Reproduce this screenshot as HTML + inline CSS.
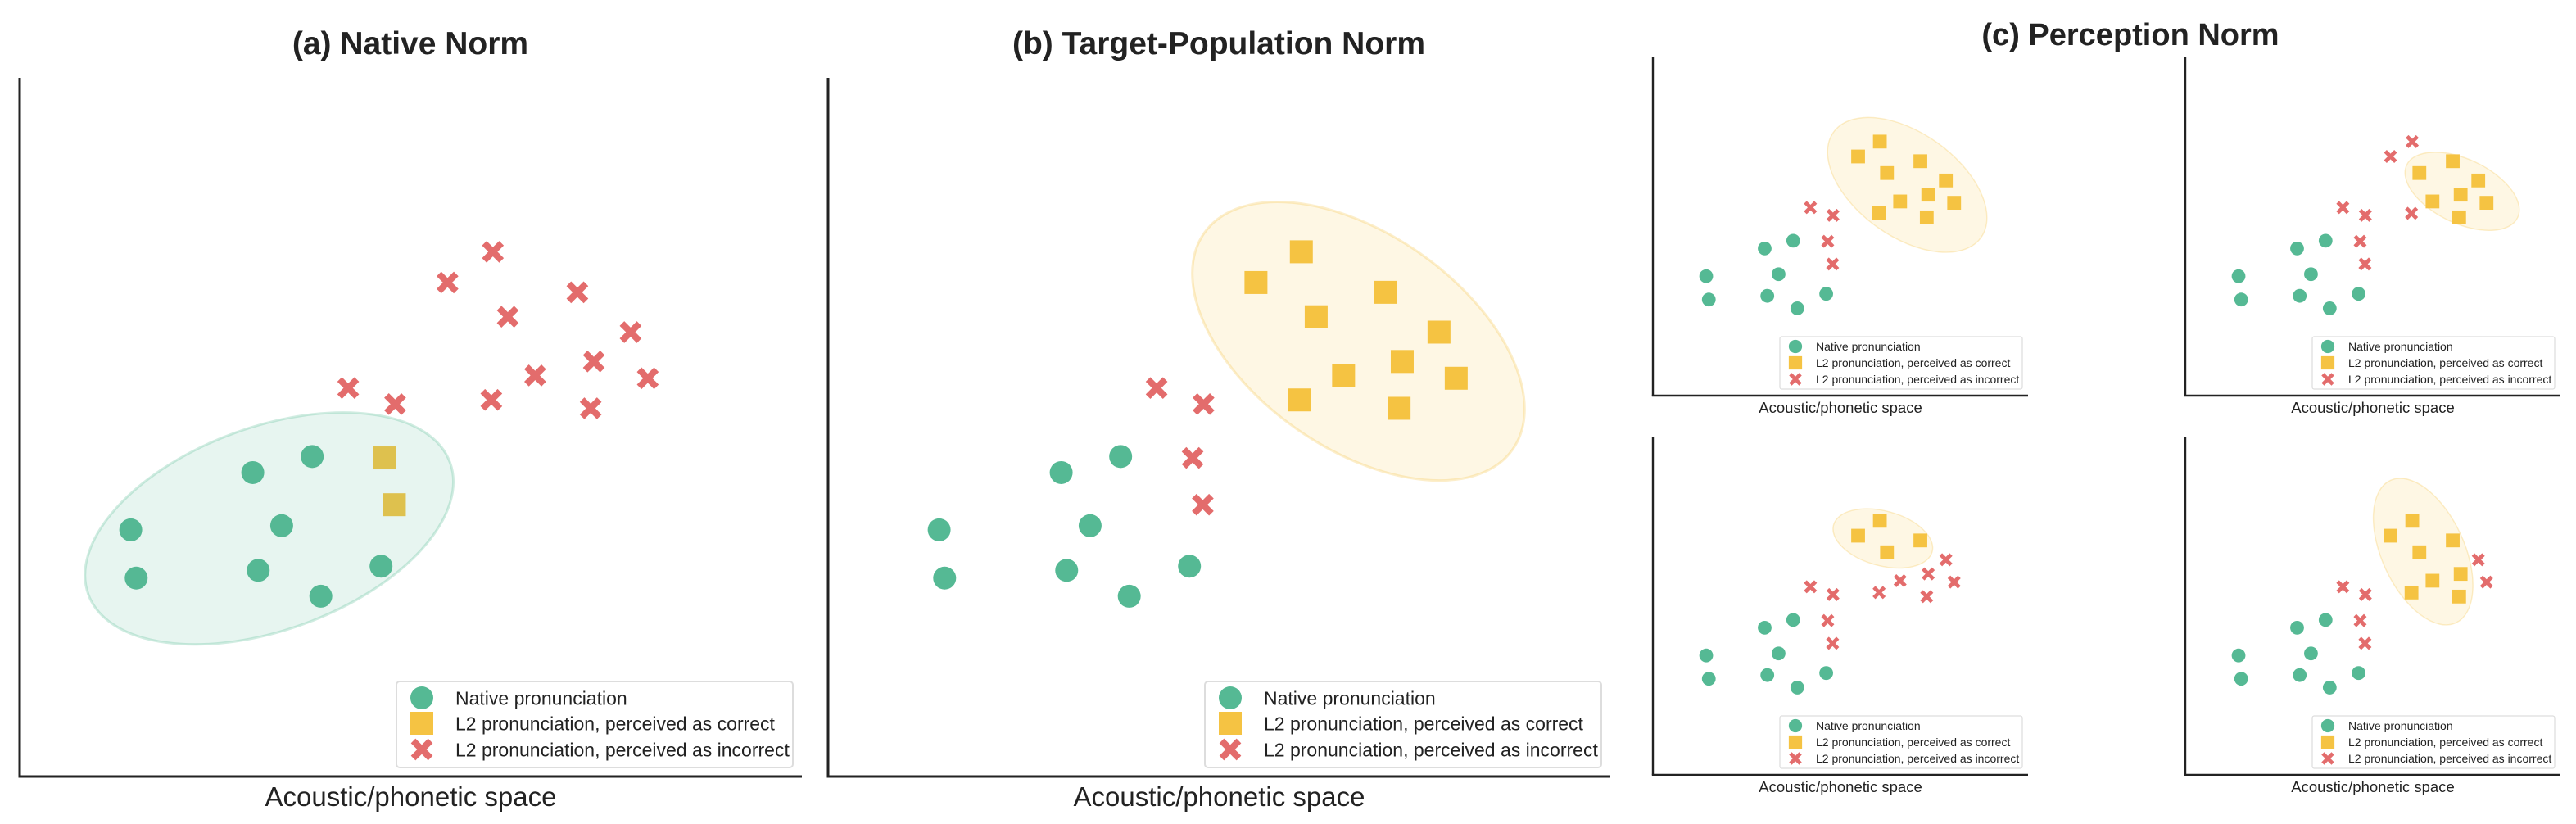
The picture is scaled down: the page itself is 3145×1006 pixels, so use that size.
<!DOCTYPE html>
<html><head><meta charset="utf-8"><style>
html,body{margin:0;padding:0;background:#fff;}
svg{display:block;font-family:"Liberation Sans",Arial,sans-serif;}
</style></head><body>
<svg id="fig" width="3145" height="1006" viewBox="0 0 3145 1006" xmlns="http://www.w3.org/2000/svg"></svg>
<script>
// shared point data (axis units 0..10)
const nativeX = [1.42, 1.49, 2.98, 3.74, 3.35, 3.05, 3.85, 4.62];
const nativeY = [3.53, 2.84, 4.35, 4.58, 3.59, 2.95, 2.58, 3.01];
const nearX = [4.20, 4.80, 4.66, 4.79];
const nearY = [5.56, 5.33, 4.56, 3.89];
const farX = [6.05, 5.47, 7.13, 6.24, 7.81, 7.34, 6.59, 8.03, 6.03, 7.30];
const farY = [7.51, 7.07, 6.93, 6.58, 6.36, 5.94, 5.74, 5.70, 5.39, 5.27];
// category per panel: 's' = perceived correct, 'x' = perceived incorrect
const aNear = ['x','x','s','s'];
const aFar  = ['x','x','x','x','x','x','x','x','x','x'];
const bNear = ['x','x','x','x'];
const bFar  = ['s','s','s','s','s','s','s','s','s','s'];
const c1Far = ['s','s','s','s','s','s','s','s','s','s'];
const c2Far = ['x','x','s','s','s','s','s','s','x','s'];
const c3Far = ['s','s','s','s','x','x','x','x','x','x'];
const c4Far = ['s','s','s','s','x','s','s','x','s','s'];
// ellipse centres (axis units)
const ellCenterX = [3.19, 6.78, 6.78, 7.38, 6.13, 6.34];
const ellCenterY = [3.55, 6.23, 6.23, 6.04, 6.99, 6.60];
const legendLabels = ['Native pronunciation','L2 pronunciation, perceived as correct','L2 pronunciation, perceived as incorrect'];

const NS='http://www.w3.org/2000/svg';
const svg=document.getElementById('fig');
const GREEN='#55b994', YEL='#f5c343', RED='#e36c6c';
function mk(tag,attrs,parent){const e=document.createElementNS(NS,tag);for(const k in attrs)e.setAttribute(k,attrs[k]);(parent||svg).appendChild(e);return e;}

function marker(g,kind,cx,cy,m){
  let e;
  if(kind==='c'){e=mk('circle',{cx:cx,cy:cy,r:14*m,fill:GREEN},g);
    }
  else if(kind==='s'){e=mk('rect',{x:cx-14*m,y:cy-14*m,width:28*m,height:28*m,fill:YEL},g);
    }
  else{const d=10.5*m;e=mk('path',{d:`M${cx-d},${cy-d}L${cx+d},${cy+d}M${cx-d},${cy+d}L${cx+d},${cy-d}`,stroke:RED,'stroke-width':8*m,fill:'none'},g);
    }
  
}

function panel(p){
  const g=mk('g',{});
  
  
  const sx=v=>p.x0+v/10*p.w, sy=v=>p.y0+p.h-v/10*p.h;
  const m=p.m;
  nativeX.forEach((v,i)=>marker(g,'c',sx(v),sy(nativeY[i]),m));
  nearX.forEach((v,i)=>marker(g,p.near[i],sx(v),sy(nearY[i]),m));
  farX.forEach((v,i)=>marker(g,p.far[i],sx(v),sy(farY[i]),m));
  const e=p.ell, ex=sx(ellCenterX[e.i]), ey=sy(ellCenterY[e.i]);
  const eg=mk('g',{transform:`translate(${ex},${ey}) scale(${p.w/955},${p.h/853}) rotate(${e.rot})`},g);
  const el=mk('ellipse',{cx:0,cy:0,rx:e.a,ry:e.b,fill:e.fill,'fill-opacity':e.fo,stroke:e.fill,'stroke-opacity':0.28,'stroke-width':3},eg);
  
  
  const sw=m>0.8?3:2.4;
  const ys=mk('line',{x1:p.x0,y1:p.y0,x2:p.x0,y2:p.y0+p.h,stroke:'#222','stroke-width':sw},g);
  
  
  const xs=mk('line',{x1:p.x0-sw/2,y1:p.y0+p.h,x2:p.x0+p.w,y2:p.y0+p.h,stroke:'#222','stroke-width':sw},g);
  
  
  const xl=mk('text',{x:p.x0+p.w/2,y:p.y0+p.h+p.lblOff,'font-size':p.lblFs,'text-anchor':'middle',fill:'#222'},g);
  xl.textContent='Acoustic/phonetic space';
  
  
  const L=p.leg;
  const lg=mk('g',{},g);
  
  
  const bx=p.x0+p.w-L.gr-L.w, by=p.y0+p.h-L.gb-L.h;
  mk('rect',{x:bx,y:by,width:L.w,height:L.h,rx:4*L.s,fill:'#fff','fill-opacity':0.85,stroke:'#ddd','stroke-width':2*L.s},lg);
  ['c','s','x'].forEach((k,i)=>{
    const ry=by+L.rows[i];
    const eg2=mk('g',{},lg);
    
    
    marker(eg2,k,bx+L.mx,ry,L.ms);
    const t=mk('text',{x:bx+L.tx,y:ry+L.fs*0.36,'font-size':L.fs,fill:'#222'},eg2);
    t.textContent=legendLabels[i];
  });
}

function title(x,y,fs,txt,name){
  const t=mk('text',{x:x,y:y,'font-size':fs,'font-weight':'bold','text-anchor':'middle',fill:'#222'});
  t.textContent=txt;
  
  
}

const bigLeg={w:484,h:105,gr:11,gb:11,rows:[20,51,83],mx:31,tx:72,fs:23,ms:1,s:1};
const smLeg={w:296,h:64,gr:7,gb:8,rows:[12,32,52],mx:19,tx:44,fs:14,ms:0.58,s:0.6};
const yEll={fill:YEL,fo:0.14};

title(501,66,39,'(a) Native Norm','panel-a-title');
title(1488,66,39,'(b) Target-Population Norm','panel-b-title');
title(2601,55,38,'(c) Perception Norm','panel-c-title');

panel({name:'panel-a-native-norm',x0:24,y0:95,w:955,h:853,m:1,near:aNear,far:aFar,
  ell:{i:0,a:235,b:124,rot:-20,fill:GREEN,fo:0.14},lblOff:36,lblFs:33,leg:bigLeg});
panel({name:'panel-b-target-population-norm',x0:1011,y0:95,w:955,h:853,m:1,near:bNear,far:bFar,
  ell:Object.assign({i:1,a:230,b:131,rot:35},yEll),lblOff:36,lblFs:33,leg:bigLeg});
panel({name:'panel-c1',x0:2018,y0:70,w:458,h:413,m:0.6,near:bNear,far:c1Far,
  ell:Object.assign({i:2,a:230,b:131,rot:35},yEll),lblOff:21,lblFs:18.5,leg:smLeg});
panel({name:'panel-c2',x0:2668,y0:70,w:458,h:413,m:0.6,near:bNear,far:c2Far,
  ell:Object.assign({i:3,a:156,b:81,rot:25},yEll),lblOff:21,lblFs:18.5,leg:smLeg});
panel({name:'panel-c3',x0:2018,y0:533,w:458,h:413,m:0.6,near:bNear,far:c3Far,
  ell:Object.assign({i:4,a:130,b:69,rot:15},yEll),lblOff:21,lblFs:18.5,leg:smLeg});
panel({name:'panel-c4',x0:2668,y0:533,w:458,h:413,m:0.6,near:bNear,far:c4Far,
  ell:Object.assign({i:5,a:198,b:105,rot:65},yEll),lblOff:21,lblFs:18.5,leg:smLeg});
</script>
</body></html>
